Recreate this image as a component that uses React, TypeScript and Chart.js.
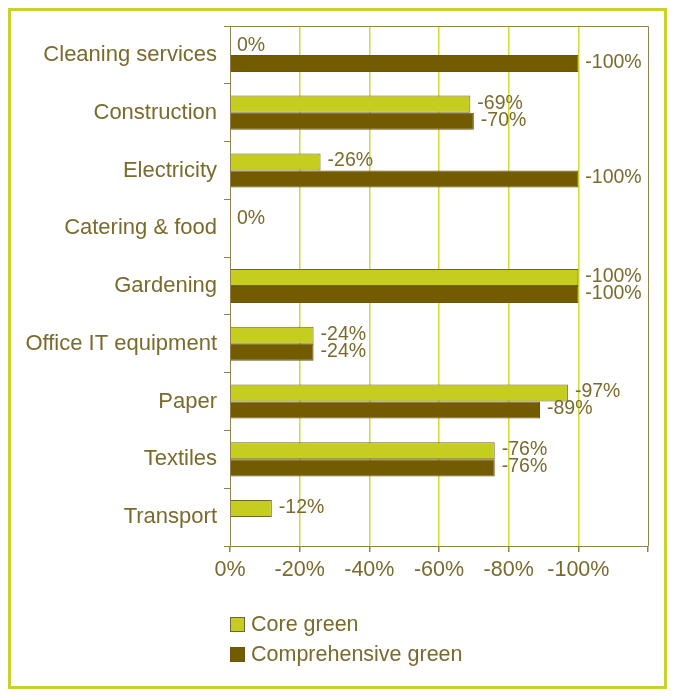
import React, { useEffect, useRef } from "react";
import { Chart, registerables } from "chart.js";

Chart.register(...registerables);

const categories = [
  "Cleaning services",
  "Construction",
  "Electricity",
  "Catering & food",
  "Gardening",
  "Office IT equipment",
  "Paper",
  "Textiles",
  "Transport",
];
const coreGreen: (number | null)[] = [0, 69, 26, 0, 100, 24, 97, 76, 12];
const comprehensiveGreen: (number | null)[] = [100, 70, 100, null, 100, 24, 89, 76, null];
const xTickValues = [0, 20, 40, 60, 80, 100];
const seriesNames = ["Core green", "Comprehensive green"];

const FONT = '"Liberation Sans", Arial, sans-serif';
const TEXT = "#7a6a2c";
const AXIS = "#948150";
const GRID = "#d2d93c";
const CORE_FILL = "#c5cd1e";
const CORE_BORDER = "#6f6330";
const COMP_FILL = "#735b00";
const COMP_BORDER = "#6a5410";
const FRAME = "#c9d22b";

const fmt = (v: number) => (v === 0 ? "0%" : "-" + v + "%");

const labelPlugin = {
  id: "barLabels",
  afterDatasetsDraw(chart: any) {
    const ctx = chart.ctx;
    ctx.save();
    ctx.font = "19.5px " + FONT;
    ctx.fillStyle = TEXT;
    ctx.textBaseline = "middle";
    ctx.textAlign = "left";
    chart.data.datasets.forEach((ds: any, di: number) => {
      const meta = chart.getDatasetMeta(di);
      meta.data.forEach((el: any, i: number) => {
        const v = ds.data[i];
        if (v === null || v === undefined) return;
        ctx.fillText(fmt(v), el.x + 7, el.y - 1);
      });
    });
    ctx.restore();
  },
};

const framePlugin = {
  id: "plotFrame",
  afterDraw(chart: any) {
    const { ctx, chartArea } = chart;
    ctx.save();
    ctx.strokeStyle = AXIS;
    ctx.lineWidth = 1;
    ctx.beginPath();
    ctx.moveTo(chartArea.left, chartArea.top + 0.5);
    ctx.lineTo(chartArea.right + 0.5, chartArea.top + 0.5);
    ctx.lineTo(chartArea.right + 0.5, chartArea.bottom);
    ctx.stroke();
    ctx.restore();
  },
};

export default function App() {
  const ref = useRef<HTMLCanvasElement>(null);
  useEffect(() => {
    if (!ref.current) return;
    const chart = new Chart(ref.current, {
      type: "bar",
      data: {
        labels: categories,
        datasets: [
          {
            label: seriesNames[0],
            data: coreGreen,
            backgroundColor: CORE_FILL,
            borderColor: CORE_BORDER,
            borderWidth: (c: any) => (c.raw ? 1 : 0),
            barPercentage: 1,
            categoryPercentage: 0.59,
          },
          {
            label: seriesNames[1],
            data: comprehensiveGreen,
            backgroundColor: COMP_FILL,
            borderColor: COMP_BORDER,
            borderWidth: (c: any) => (c.raw ? 1 : 0),
            barPercentage: 1,
            categoryPercentage: 0.59,
          },
        ] as any,
      },
      options: {
        indexAxis: "y",
        animation: false,
        responsive: false,
        layout: { padding: { left: 0, right: 16, top: 15, bottom: 100 } },
        plugins: {
          legend: { display: false },
          tooltip: { enabled: false },
        },
        scales: {
          x: {
            min: 0,
            max: 120,
            afterBuildTicks: (axis: any) => {
              axis.ticks = [...xTickValues, 120].map((v) => ({ value: v }));
            },
            afterFit: (axis: any) => {
              axis.height = 40;
              axis.paddingLeft = 0;
              axis.paddingRight = 0;
            },
            ticks: {
              color: TEXT,
              font: { family: FONT, size: 21.5 },
              padding: 5,
              callback: (v: any) => (v === 120 ? "" : fmt(Number(v))),
              maxRotation: 0,
              autoSkip: false,
            },
            grid: {
              color: (c: any) =>
                c.tick && (c.tick.value === 120 || c.tick.value === 0) ? "rgba(0,0,0,0)" : GRID,
              lineWidth: 1.5,
              tickColor: AXIS,
              tickLength: 6,
              drawTicks: true,
            },
            border: { color: AXIS, width: 1 },
          },
          y: {
            afterFit: (axis: any) => {
              axis.width = 219;
              axis.paddingTop = 0;
              axis.paddingBottom = 0;
            },
            ticks: {
              color: TEXT,
              font: { family: FONT, size: 22 },
              padding: 7,
            },
            grid: {
              drawOnChartArea: false,
              offset: true,
              tickColor: AXIS,
              tickLength: 6,
            },
            border: { color: AXIS, width: 1 },
          },
        },
      } as any,
      plugins: [labelPlugin, framePlugin],
    });
    return () => chart.destroy();
  }, []);

  const legendRow = (fill: string, border: string, text: string, top: number) => (
    <div
      style={{
        position: "absolute",
        left: 219,
        top,
        display: "flex",
        alignItems: "center",
        fontFamily: FONT,
        fontSize: 21.5,
        color: TEXT,
        lineHeight: "22px",
      }}
    >
      <span
        style={{
          display: "inline-block",
          width: 13,
          height: 13,
          background: fill,
          border: "1px solid " + border,
          marginRight: 6,
        }}
      />
      <span>{text}</span>
    </div>
  );

  return (
    <div
      style={{
        position: "relative",
        width: 659,
        height: 681,
        border: "3px solid " + FRAME,
        boxSizing: "border-box",
        background: "#fff",
      }}
    >
      <canvas
        ref={ref}
        width={653}
        height={675}
        style={{ position: "absolute", left: 0, top: 0, width: 653, height: 675 }}
      />
      {legendRow(CORE_FILL, CORE_BORDER, seriesNames[0], 602)}
      {legendRow(COMP_FILL, COMP_BORDER, seriesNames[1], 632)}
    </div>
  );
}
